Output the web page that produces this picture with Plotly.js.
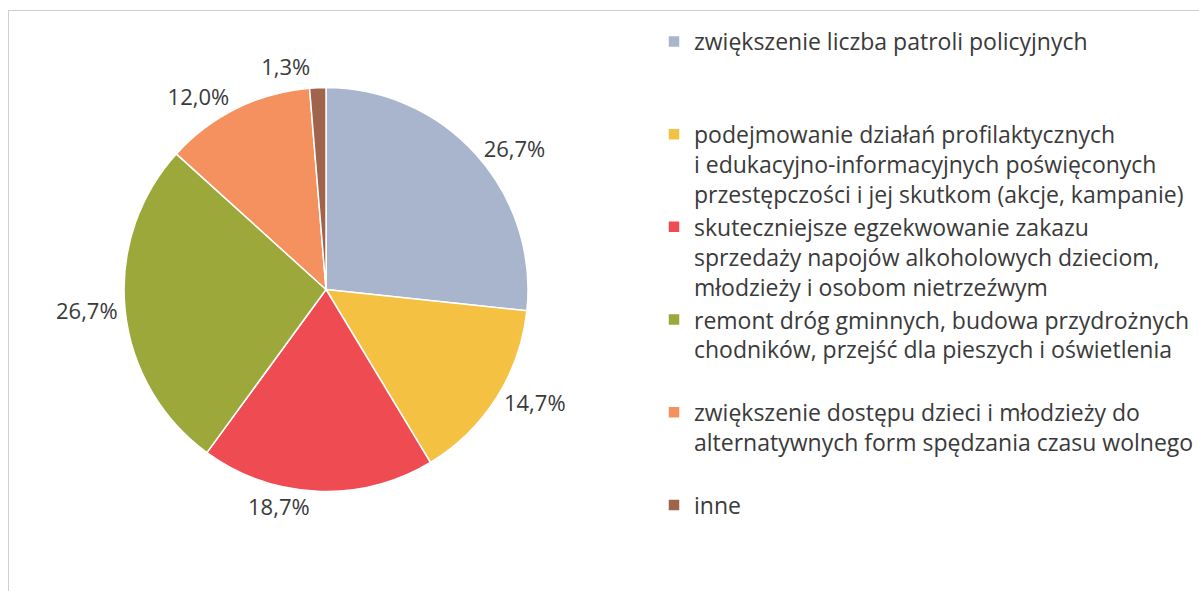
<!DOCTYPE html>
<html>
<head>
<meta charset="utf-8">
<script src="https://cdn.plot.ly/plotly-3.0.1.min.js"></script>
<style>
  body { margin: 0; background: #fff; }
  #frame { position: absolute; left: 8px; top: 10px; width: 1300px; height: 700px;
           border-left: 1px solid #cfcfcf; border-top: 1px solid #cfcfcf; }
  #chart { position: absolute; left: 0; top: 0; width: 1199px; height: 591px; }
  /* the original has no leader lines on the pie labels */
  #chart .textline { display: none; }
</style>
</head>
<body>
<div id="frame"></div>
<div id="chart"></div>
<script>
// --- Data ---
const labels = [
  'zwiększenie liczba patroli policyjnych',
  'podejmowanie działań profilaktycznych<br>i edukacyjno-informacyjnych poświęconych<br>przestępczości i jej skutkom (akcje, kampanie)',
  'skuteczniejsze egzekwowanie zakazu<br>sprzedaży napojów alkoholowych dzieciom,<br>młodzieży i osobom nietrzeźwym',
  'remont dróg gminnych, budowa przydrożnych<br>chodników, przejść dla pieszych i oświetlenia',
  'zwiększenie dostępu dzieci i młodzieży do<br>alternatywnych form spędzania czasu wolnego',
  'inne',
];
const values = [26.7, 14.7, 18.7, 26.7, 12.0, 1.3];
const colors = ['#a9b4cd', '#f4c142', '#ee4b52', '#9ca83a', '#f4915f', '#a0644c'];

// every legend entry takes three lines in the original
const padded = labels.map(l => {
  const n = l.split('<br>').length;
  return l + '<br> '.repeat(3 - n);
});

const FONT = '"Open Sans", Lato, sans-serif';

const trace = {
  type: 'pie',
  labels: padded,
  values: values,
  sort: false,
  direction: 'clockwise',
  rotation: 0,
  marker: { colors: colors, line: { color: '#ffffff', width: 1.5 } },
  textposition: 'outside',
  texttemplate: '%{value:.1f}%',
  outsidetextfont: { family: FONT, size: 22, color: '#3a3a3a' },
  domain: { x: [125 / 1199, 532 / 1199], y: [98 / 591, 505 / 591] },
  hoverinfo: 'label+percent',
};

const layout = {
  width: 1199,
  height: 591,
  margin: { t: 0, r: 0, b: 0, l: 0 },
  paper_bgcolor: 'rgba(0,0,0,0)',
  plot_bgcolor: 'rgba(0,0,0,0)',
  separators: ', ',
  showlegend: true,
  legend: {
    x: 659 / 1199,
    xanchor: 'left',
    y: 1 - 20 / 591,
    yanchor: 'top',
    valign: 'top',
    font: { family: FONT, size: 23, color: '#3a3a3a' },
    itemclick: false,
  },
};

Plotly.newPlot('chart', [trace], layout, { displayModeBar: false, staticPlot: true });
</script>
</body>
</html>
